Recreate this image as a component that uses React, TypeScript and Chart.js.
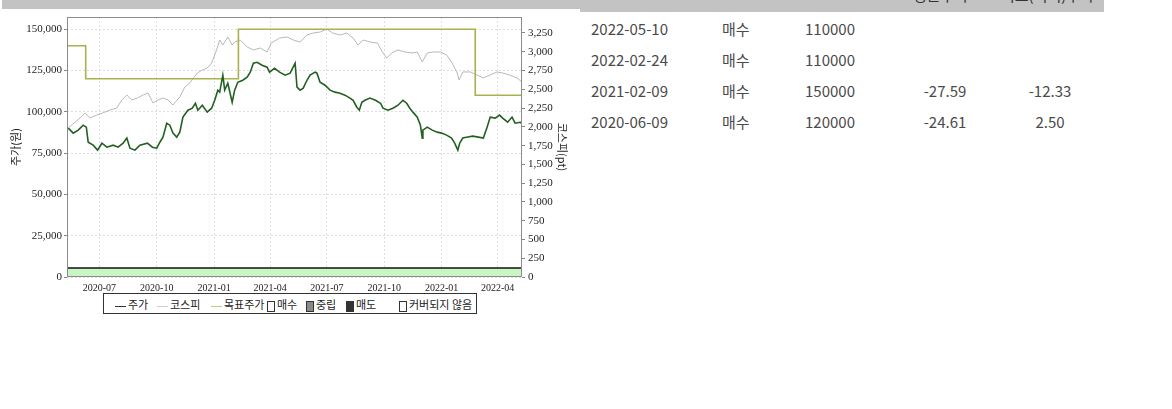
import React, { useEffect, useRef } from 'react';
import { Chart, registerables } from 'chart.js';

Chart.register(...registerables);

// ---- data ----
// x values are days since 2020-05-10 (chart start); chart spans to 2022-05-10 (day 730)
const X_MIN_DAY = 0;
const X_MAX_DAY = 730;
const xTickDays = [52, 144, 236, 326, 417, 509, 601, 691];
const xTickLabels = ['2020-07', '2020-10', '2021-01', '2021-04', '2021-07', '2021-10', '2022-01', '2022-04'];

const priceDays = [
  2, 10, 18, 26, 31, 34, 42, 49, 56, 64,
  74, 82, 90, 96, 101, 109, 117, 129, 137, 144,
  149, 154, 160, 165, 170, 176, 181, 186, 194, 201,
  206, 210, 217, 225, 232, 237, 242, 245, 250, 253,
  258, 265, 269, 274, 282, 289, 294, 299, 305, 313,
  321, 325, 333, 341, 350, 358, 366, 369, 374, 379,
  385, 390, 398, 401, 406, 414, 422, 430, 438, 446,
  454, 459, 465, 469, 473, 478, 486, 495, 503, 507,
  515, 523, 531, 539, 545, 550, 555, 562, 567, 570,
  571, 578, 586, 594, 601, 609, 617, 622, 627, 630,
  635, 643, 651, 660, 668, 674, 679, 687, 694, 699,
  707, 714, 719, 727, 730,
];
const priceValues = [
  90100, 87100, 88900, 91900, 90700, 81600, 79800, 76800, 81000, 78600,
  79800, 78600, 81000, 84100, 78000, 76800, 79800, 81000, 78600, 78000,
  81600, 84700, 93100, 91900, 87100, 84700, 87700, 96800, 101000, 102200,
  105200, 101000, 104000, 99800, 102200, 107000, 113100, 111900, 122200, 113100,
  117300, 105800, 113100, 117900, 119100, 121000, 124000, 129400, 130000, 128200,
  127000, 124000, 126400, 124000, 122200, 123400, 129400, 114900, 113100, 114300,
  119100, 122200, 124000, 123400, 117900, 116100, 113100, 111900, 111300, 110100,
  108300, 107000, 102800, 101000, 105800, 107000, 108300, 107000, 105200, 102200,
  101000, 102200, 104000, 107000, 105200, 102200, 99800, 96800, 91900, 84100,
  88900, 90700, 88900, 87700, 87100, 85900, 84100, 81000, 76800, 81000,
  84100, 84700, 85300, 84700, 84100, 90700, 96800, 96200, 98000, 96200,
  93700, 96800, 93100, 93700, 93100,
];

const kospiDays = [
  2, 21, 29, 37, 48, 57, 69, 80, 88, 96,
  104, 113, 122, 130, 138, 146, 154, 162, 170, 181,
  189, 197, 209, 217, 225, 232, 240, 245, 250, 258,
  265, 269, 278, 289, 299, 310, 321, 328, 341, 353,
  363, 374, 385, 395, 406, 417, 426, 438, 449, 459,
  467, 475, 486, 498, 506, 513, 521, 531, 542, 554,
  562, 570, 578, 588, 599, 609, 617, 626, 629, 635,
  647, 658, 668, 679, 690, 699, 710, 722, 730,
];
const kospiValues = [
  1985, 2118, 2184, 2118, 2158, 2184, 2224, 2251, 2358, 2424,
  2358, 2384, 2424, 2451, 2318, 2358, 2384, 2358, 2291, 2398,
  2531, 2584, 2717, 2757, 2784, 2850, 3024, 3157, 3090, 3197,
  3090, 3130, 3157, 3064, 3024, 3050, 2997, 3117, 3183, 3197,
  3157, 3130, 3223, 3250, 3263, 3303, 3250, 3223, 3250, 3183,
  3090, 3157, 3130, 3117, 2997, 2917, 2984, 3024, 2997, 2984,
  2997, 2864, 2984, 2997, 2997, 2957, 2864, 2717, 2624, 2731,
  2731, 2691, 2651, 2691, 2731, 2717, 2691, 2651, 2597,
];

// target price: value in force from each day until the next one
const targetDays = [0, 30, 275, 655, 730];
const targetValues = [140000, 120000, 150000, 110000, 110000];

// opinion coverage band (매수 whole period)
const coverageDays = [0, 730];
const coverageLevel = 5500;

const leftTicks = [0, 25000, 50000, 75000, 100000, 125000, 150000];
const rightTicks = [0, 250, 500, 750, 1000, 1250, 1500, 1750, 2000, 2250, 2500, 2750, 3000, 3250];
const LEFT_MAX = 157400;
const RIGHT_MAX = 3463;

const tableDates = ['2022-05-10', '2022-02-24', '2021-02-09', '2020-06-09'];
const tableOpinions = ['매수', '매수', '매수', '매수'];
const tableTargets = ['110000', '110000', '150000', '120000'];
const tableAvgGap = ['', '', '-27.59', '-24.61'];
const tableMaxGap = ['', '', '-12.33', '2.50'];

const SERIF = "'Liberation Serif', 'DejaVu Serif', serif";
const KR = "'Noto Sans CJK KR', 'Noto Sans', sans-serif";

const framePlugin = {
  id: 'frame',
  afterDatasetsDraw(chart: any) {
    const { ctx, chartArea } = chart;
    const { left, top, right, bottom } = chartArea;
    ctx.save();
    ctx.strokeStyle = '#8c8c8c';
    ctx.lineWidth = 1;
    ctx.strokeRect(Math.round(left) + 0.5, Math.round(top) + 0.5, Math.round(right - left) - 1, Math.round(bottom - top) - 1);
    ctx.restore();
  },
};

function ChartCanvas() {
  const ref = useRef<HTMLCanvasElement | null>(null);
  useEffect(() => {
    if (!ref.current) return;
    const chart = new Chart(ref.current, {
      type: 'line',
      data: {
        datasets: [
          {
            label: '주가',
            data: priceDays.map((d, i) => ({ x: d, y: priceValues[i] })),
            borderColor: '#235f23',
            borderWidth: 1.6,
            pointRadius: 0,
            yAxisID: 'y',
            order: 1,
          },
          {
            label: '목표주가',
            data: targetDays.map((d, i) => ({ x: d, y: targetValues[i] })),
            borderColor: '#aab14c',
            borderWidth: 1.6,
            pointRadius: 0,
            stepped: 'before',
            yAxisID: 'y',
            order: 2,
          },
          {
            label: '코스피',
            data: kospiDays.map((d, i) => ({ x: d, y: kospiValues[i] })),
            borderColor: '#b8b8b8',
            borderWidth: 1,
            pointRadius: 0,
            yAxisID: 'y1',
            order: 3,
          },
          {
            label: '매수',
            data: coverageDays.map((d) => ({ x: d, y: coverageLevel })),
            borderColor: '#111111',
            borderWidth: 1.5,
            backgroundColor: '#c9f5c4',
            fill: 'origin',
            pointRadius: 0,
            yAxisID: 'y',
            order: 10,
          },
        ] as any,
      },
      options: {
        animation: false,
        responsive: false,
        maintainAspectRatio: false,
        layout: { padding: { top: 17, left: 0, right: 0, bottom: 0 } },
        plugins: { legend: { display: false }, tooltip: { enabled: false } },
        scales: {
          x: {
            type: 'linear',
            min: X_MIN_DAY,
            max: X_MAX_DAY,
            afterBuildTicks: (scale: any) => {
              scale.ticks = xTickDays.map((v) => ({ value: v }));
            },
            afterFit: (scale: any) => {
              scale.height = 19;
            },
            ticks: {
              autoSkip: false,
              maxRotation: 0,
              padding: 5,
              color: '#222',
              font: { family: SERIF, size: 10 },
              callback: (_v: any, i: number) => xTickLabels[i],
            },
            grid: { color: '#dedede', drawTicks: false },
            border: { display: false, dash: [2, 2] },
          },
          y: {
            type: 'linear',
            position: 'left',
            min: 0,
            max: LEFT_MAX,
            afterBuildTicks: (scale: any) => {
              scale.ticks = leftTicks.map((v) => ({ value: v }));
            },
            afterFit: (scale: any) => {
              scale.width = 67;
            },
            ticks: {
              padding: 2,
              color: '#222',
              font: { family: SERIF, size: 11 },
              callback: (v: any) => Number(v).toLocaleString('en-US'),
            },
            grid: { color: '#dedede', tickLength: 3, tickColor: '#888' },
            border: { display: false, dash: [2, 2] },
            title: {
              display: true,
              text: '주가(원)',
              color: '#222',
              font: { family: KR, size: 11 },
              padding: { top: 9, bottom: 0 },
            },
          },
          y1: {
            type: 'linear',
            position: 'right',
            min: 0,
            max: RIGHT_MAX,
            afterBuildTicks: (scale: any) => {
              scale.ticks = rightTicks.map((v) => ({ value: v }));
            },
            afterFit: (scale: any) => {
              scale.width = 58;
            },
            ticks: {
              padding: 3,
              color: '#222',
              font: { family: SERIF, size: 11 },
              callback: (v: any) => Number(v).toLocaleString('en-US'),
            },
            grid: { drawOnChartArea: false, tickLength: 3, tickColor: '#888' },
            border: { display: false },
            title: {
              display: true,
              text: '코스피(pt)',
              color: '#222',
              font: { family: KR, size: 11 },
              padding: { top: 11, bottom: 0 },
            },
          },
        } as any,
      },
      plugins: [framePlugin],
    });
    return () => chart.destroy();
  }, []);
  return <canvas ref={ref} width={580} height={296} style={{ position: 'absolute', left: 0, top: 0, width: 580, height: 296 }} />;
}

function LegendLine({ color }: { color: string }) {
  return <span style={{ display: 'inline-block', width: 11, height: 0, borderTop: `1px solid ${color}`, verticalAlign: 'middle', marginRight: 2 }} />;
}
function LegendBox({ fill }: { fill: string }) {
  return <span style={{ display: 'inline-block', width: 6, height: 9, border: '1px solid #333', background: fill, verticalAlign: 'middle', marginRight: 2 }} />;
}

export default function App() {
  const item = (left: number, children: React.ReactNode) => (
    <div style={{ position: 'absolute', left, top: 0, height: 20, lineHeight: '20px', whiteSpace: 'nowrap' }}>{children}</div>
  );
  const cell: React.CSSProperties = { position: 'absolute', whiteSpace: 'nowrap', lineHeight: '20px', fontSize: 15, color: '#4a4a4a' };
  return (
    <div style={{ position: 'absolute', left: 0, top: 0, width: 1172, height: 409, background: '#fff', overflow: 'hidden', fontFamily: KR }}>
      <div style={{ position: 'absolute', left: 2, top: 0, width: 578, height: 9, background: '#c3c3c3' }} />
      <div style={{ position: 'absolute', left: 580, top: 0, width: 524, height: 12, background: '#c3c3c3', overflow: 'hidden' }}>
        <span style={{ position: 'absolute', left: 333, top: -16, fontSize: 15, color: '#333' }}>평균주가</span>
        <span style={{ position: 'absolute', left: 421, top: -16, fontSize: 15, color: '#333' }}>최고(최저)주가</span>
      </div>
      <ChartCanvas />
      <div style={{ position: 'absolute', left: 103, top: 293, width: 372, height: 19, border: '1px solid #333', fontSize: 11, color: '#222', background: '#fff' }}>
        {item(11, <><LegendLine color="#333" />주가</>)}
        {item(53, <><LegendLine color="#cfcfcf" />코스피</>)}
        {item(107, <><LegendLine color="#c8cc80" />목표주가</>)}
        {item(163, <><LegendBox fill="#fff" />매수</>)}
        {item(202, <><LegendBox fill="#8a8a8a" />중립</>)}
        {item(242, <><LegendBox fill="#333" />매도</>)}
        {item(295, <><LegendBox fill="#fff" />커버되지 않음</>)}
      </div>
      {tableDates.map((d, i) => {
        const top = 19 + i * 31;
        return (
          <React.Fragment key={d + i}>
            <div style={{ ...cell, left: 591, top }}>{d}</div>
            <div style={{ ...cell, left: 722, top }}>{tableOpinions[i]}</div>
            <div style={{ ...cell, left: 805, top }}>{tableTargets[i]}</div>
            <div style={{ ...cell, left: 905, top, width: 80, textAlign: 'center' }}>{tableAvgGap[i]}</div>
            <div style={{ ...cell, left: 1010, top, width: 80, textAlign: 'center' }}>{tableMaxGap[i]}</div>
          </React.Fragment>
        );
      })}
    </div>
  );
}
